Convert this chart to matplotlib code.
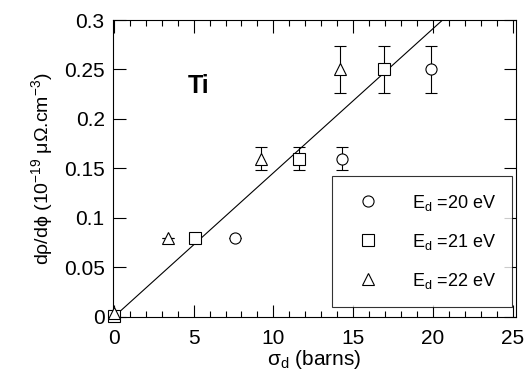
import matplotlib.pyplot as plt
from matplotlib.ticker import MultipleLocator

plt.rcParams['font.family'] = ['Liberation Sans', 'DejaVu Sans']
plt.rcParams['mathtext.default'] = 'regular'

# cross section sigma_d (barns) and d rho / d phi for each displacement energy
sigma_20 = [7.6, 14.3, 19.9]
rate_20 = [0.08, 0.16, 0.25]
err_20 = [0.0, 0.012, 0.024]

sigma_21 = [0.0, 5.1, 11.6, 16.9]
rate_21 = [0.001, 0.08, 0.16, 0.25]
err_21 = [0.0, 0.0, 0.012, 0.024]

sigma_22 = [0.0, 3.4, 9.2, 14.2]
rate_22 = [0.004, 0.08, 0.16, 0.25]
err_22 = [0.0, 0.0, 0.012, 0.024]

fit_x = [0.0, 20.6]
fit_y = [0.0, 0.3]

fig = plt.figure(figsize=(5.29, 3.76), dpi=100)
ax = fig.add_axes([0.2136, 0.157, 0.7618, 0.7898])

ax.plot(fit_x, fit_y, '-k', linewidth=0.8)

series = [
    (sigma_20, rate_20, err_20, 'o', 'E$_d$ =20 eV', 8),
    (sigma_21, rate_21, err_21, 's', 'E$_d$ =21 eV', 8.5),
    (sigma_22, rate_22, err_22, '^', 'E$_d$ =22 eV', 8.5),
]
handles = []
for x, y, e, m, lab, ms in series:
    ax.errorbar(x, y, yerr=e, fmt='none', ecolor='black', elinewidth=0.8,
                capsize=4, capthick=0.8, zorder=2)
    h, = ax.plot(x, y, m, mfc='white', mec='black', ms=ms, mew=0.8,
                 label=lab, zorder=3, clip_on=False)
    handles.append(h)

ax.text(5.3, 0.233, 'Ti', fontsize=18, fontweight='bold', ha='center', va='center')

ax.set_xlim(-0.05, 25.2)
ax.set_ylim(0, 0.3)
ax.xaxis.set_major_locator(MultipleLocator(5))
ax.xaxis.set_minor_locator(MultipleLocator(1))
ax.set_yticks([0, 0.05, 0.1, 0.15, 0.2, 0.25, 0.3])
ax.set_yticklabels(['0', '0.05', '0.1', '0.15', '0.2', '0.25', '0.3'])

ax.tick_params(axis='both', which='major', direction='in', length=9,
               width=0.8, labelsize=15, top=True, right=True)
ax.tick_params(axis='x', which='minor', direction='in', length=4.5,
               width=0.8, top=True)
ax.tick_params(axis='x', which='major', pad=9)
ax.tick_params(axis='y', which='major', pad=6)
for s in ax.spines.values():
    s.set_linewidth(0.8)

ax.set_xlabel(r'$\sigma_d$ (barns)', fontsize=15, labelpad=0)
ax.set_ylabel(r'd$\rho$/d$\phi$ (10$^{-19}$ $\mu\Omega$.cm$^{-3}$)',
              fontsize=14, labelpad=6)

leg = ax.legend(handles=handles, loc='lower right', bbox_to_anchor=(0.99, 0.034),
                borderaxespad=0, fontsize=13, frameon=True, fancybox=False,
                edgecolor='black', borderpad=0.9, labelspacing=1.05,
                handletextpad=1.3, handlelength=2.2, numpoints=1)
leg.get_frame().set_linewidth(0.8)

fig.savefig('out.png', dpi=100)
